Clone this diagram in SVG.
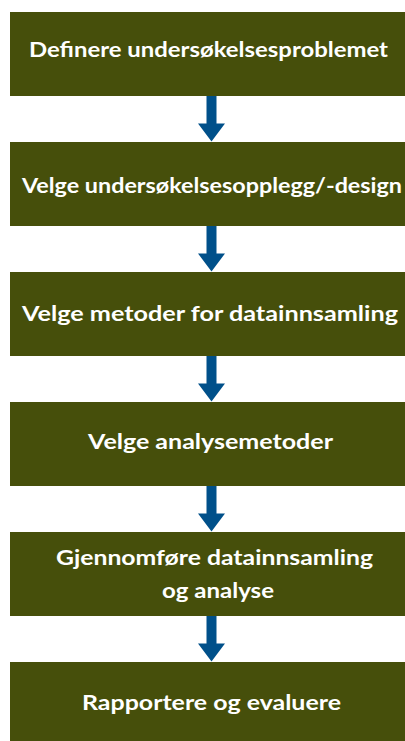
<svg xmlns="http://www.w3.org/2000/svg" width="405" height="741" viewBox="0 0 405 741">
<style>
.box{fill:#464f0b}
.lbl{fill:#ffffff;font-family:Lato,"Open Sans","DejaVu Sans",sans-serif;font-weight:700;font-size:21px}
.arr{fill:#00508a}
</style>
<defs>
<path id="arrow" d="M206.5,0 H216.5 V27.5 H225 L211.5,45.5 L198,27.5 H206.5 Z"/>
</defs>
<rect width="405" height="741" fill="#ffffff"/>
<g id="n1"><rect class="box" x="10" y="12" width="400" height="84"/><text class="lbl" x="29" y="57" textLength="359" lengthAdjust="spacingAndGlyphs">Definere undersøkelsesproblemet</text></g>
<g id="n2"><rect class="box" x="10" y="142" width="400" height="84"/><text class="lbl" x="22" y="193" textLength="380" lengthAdjust="spacingAndGlyphs">Velge undersøkelsesopplegg/-design</text></g>
<g id="n3"><rect class="box" x="10" y="272" width="400" height="84"/><text class="lbl" x="22" y="321" textLength="376" lengthAdjust="spacingAndGlyphs">Velge metoder for datainnsamling</text></g>
<g id="n4"><rect class="box" x="10" y="402" width="400" height="84"/><text class="lbl" x="88" y="449" textLength="245" lengthAdjust="spacingAndGlyphs">Velge analysemetoder</text></g>
<g id="n5"><rect class="box" x="10" y="532" width="400" height="84"/><text class="lbl" x="56" y="565" textLength="317" lengthAdjust="spacingAndGlyphs">Gjennomføre datainnsamling</text><text class="lbl" x="162" y="597.5" textLength="112" lengthAdjust="spacingAndGlyphs">og analyse</text></g>
<g id="n6"><rect class="box" x="10" y="662" width="400" height="84"/><text class="lbl" x="82" y="710" textLength="259" lengthAdjust="spacingAndGlyphs">Rapportere og evaluere</text></g>
<g id="connectors" class="arr">
<use href="#arrow" transform="translate(0,96)"/>
<use href="#arrow" transform="translate(0,226)"/>
<use href="#arrow" transform="translate(0,356)"/>
<use href="#arrow" transform="translate(0,486)"/>
<use href="#arrow" transform="translate(0,616)"/>
</g>
</svg>
